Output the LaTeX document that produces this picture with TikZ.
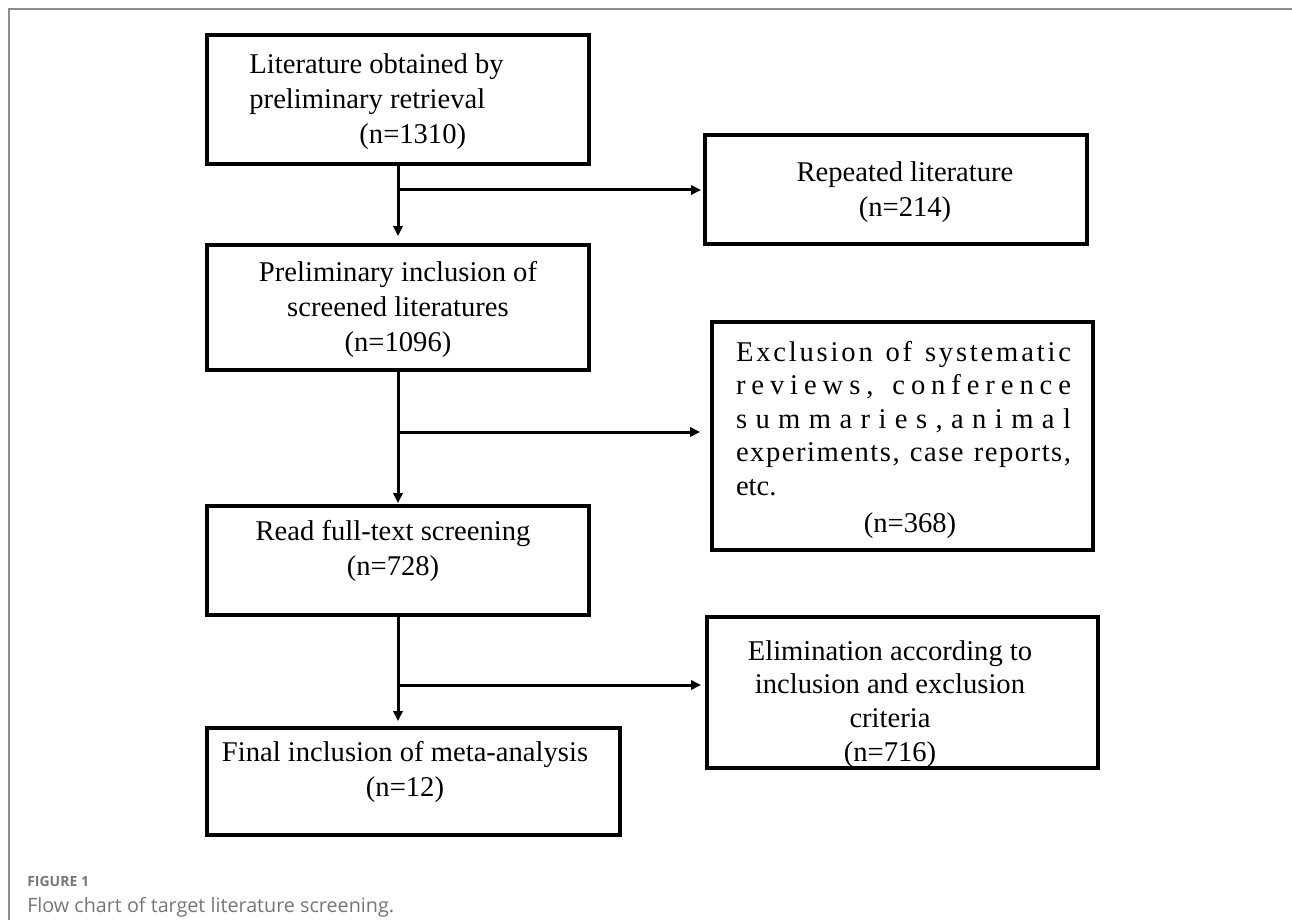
\documentclass[tikz,border=0pt]{standalone}
\usepackage{fontspec}
\setmainfont{Liberation Serif}
\newfontfamily\capfont{Open Sans}
\usetikzlibrary{arrows.meta}
\definecolor{framegray}{HTML}{8C8C8C}
\definecolor{capgray}{HTML}{767676}
\newcommand\boxfont{\fontsize{21.45pt}{26.25pt}\selectfont}
% shift content by dx (right) and dy (down), given in px (1px = 0.75pt)
\newcommand\offs[3]{%
  \raisebox{\dimexpr -#2pt*3/4\relax}[\height][\depth]{%
    \hspace*{\dimexpr #1pt*3/4\relax}#3\hspace*{\dimexpr -#1pt*3/4\relax}}}
\ExplSyntaxOn
\NewDocumentCommand \spreadline { m m }
  {
    \hbox_to_wd:nn { #1 }
      {
        \seq_set_split:Nnn \l_tmpa_seq { ~ } { #2 }
        \seq_map_inline:Nn \l_tmpa_seq
          {
            \tl_map_inline:nn { ##1 } { ####1 \skip_horizontal:n { 0pt plus 1fil } }
            \skip_horizontal:n { 0.25em plus 1fil }
          }
        \unskip \unskip
      }
  }
\ExplSyntaxOff
\begin{document}
\begin{tikzpicture}[x=0.75pt,y=-0.75pt,
  box/.style={draw=black, line width=3pt, rectangle, inner sep=0pt, font=\boxfont},
  arr/.style={line width=2.25pt, -{Triangle[length=7.5pt,width=7pt]}},
  capA/.style={anchor=base west, inner sep=0pt, text=capgray, font=\capfont\bfseries\fontsize{10.5pt}{13pt}\selectfont},
  capB/.style={anchor=base west, inner sep=0pt, text=capgray, font=\capfont\fontsize{14.8pt}{18pt}\selectfont},
]
\useasboundingbox (0,0) rectangle (1292,920);
\draw[framegray, line width=1pt] (9,920) -- (9,9) -- (1292,9);

\node[box, minimum width=286.5pt, minimum height=96.75pt] (b1) at (398,99.5)
  {\offs{-21.5}{2.5}{\begin{tabular}{@{}l@{}}Literature obtained by\\preliminary retrieval\\\hspace*{82.5pt}(n=1310)\end{tabular}}};
\node[box, minimum width=286.5pt, minimum height=81.75pt] (b2) at (896,189.5)
  {\offs{9}{2}{\begin{tabular}{@{}c@{}}Repeated literature\\(n=214)\end{tabular}}};
\node[box, minimum width=286.5pt, minimum height=93.75pt] (b3) at (398,307.5)
  {\offs{0}{2}{\begin{tabular}{@{}c@{}}Preliminary inclusion of\\screened literatures\\(n=1096)\end{tabular}}};
\node[box, minimum width=285.75pt, minimum height=171pt] (b4) at (902.5,436)
  {\offs{1}{4}{{\fontsize{21.45pt}{25.1pt}\selectfont\begin{tabular}{@{}l@{}}%
    \spreadline{251.25pt}{Exclusion of systematic}\\
    \spreadline{251.25pt}{reviews, conference}\\
    \spreadline{251.25pt}{summaries,animal}\\
    \spreadline{251.25pt}{experiments, case reports,}\\
    etc.\\[2.5pt]
    \multicolumn{1}{@{}c@{}}{\hspace*{9.75pt}(n=368)}\end{tabular}}}};
\node[box, minimum width=286.5pt, minimum height=81.75pt] (b5) at (398,560.5)
  {\offs{-5}{-10}{\begin{tabular}{@{}c@{}}Read full-text screening\\(n=728)\end{tabular}}};
\node[box, minimum width=309.75pt, minimum height=80.25pt] (b6) at (413.5,781.5)
  {\offs{-8.5}{-10}{\begin{tabular}{@{}c@{}}Final inclusion of meta-analysis\\(n=12)\end{tabular}}};
\node[box, minimum width=293.25pt, minimum height=113.25pt] (b7) at (902.5,692.5)
  {\offs{-12.5}{11.5}{{\fontsize{21.45pt}{25.2pt}\selectfont\begin{tabular}{@{}c@{}}Elimination according to\\inclusion and exclusion\\criteria\\(n=716)\end{tabular}}}};

\coordinate (j1) at (398,190);
\coordinate (j2) at (398,432);
\coordinate (j3) at (398,685);

\draw[arr, shorten >=5.25pt] (b1.south) -- (b3.north);
\draw[arr, shorten >=1.5pt] (j1) -- (b2.west |- j1);
\draw[arr, shorten >=0.75pt] (b3.south) -- (b5.north);
\draw[arr, shorten >=7.5pt] (j2) -- (b4.west |- j2);
\draw[arr, shorten >=3.75pt] (b5.south) -- (b5.south |- b6.north);
\draw[arr, shorten >=3pt] (j3) -- (b7.west |- j3);

\node[capA] (fig) at (27,886) {FIGURE 1};
\node[capB] (cap) at (27,912) {Flow chart of target literature screening.};
\end{tikzpicture}
\end{document}
